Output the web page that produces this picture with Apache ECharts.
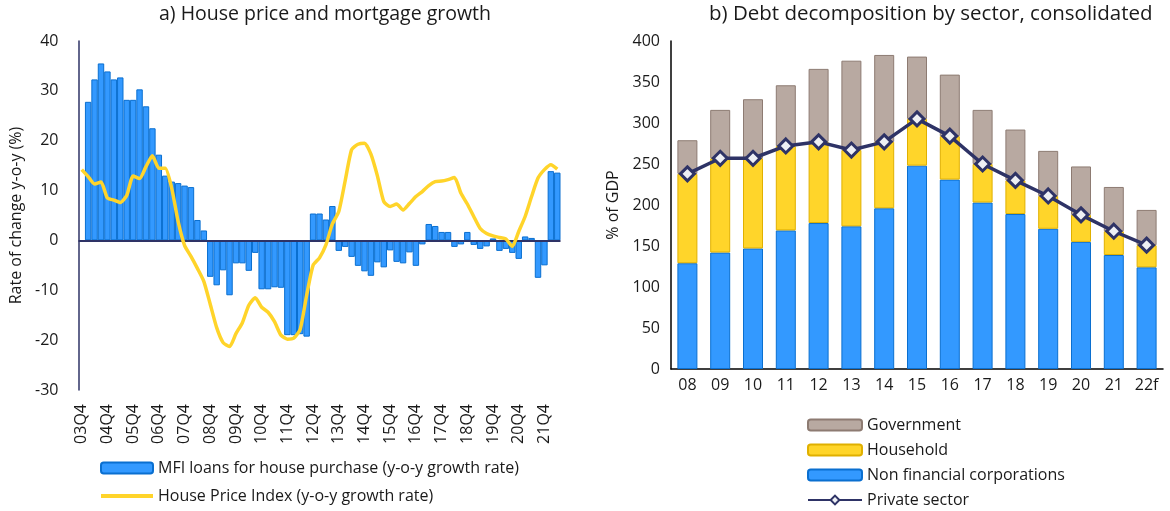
<!DOCTYPE html>
<html><head><meta charset="utf-8">
<script src="https://cdn.jsdelivr.net/npm/echarts/dist/echarts.min.js"></script>
<style>html,body{margin:0;padding:0;background:#fff}#c{width:1170px;height:511px}</style>
</head><body><div id="c"></div>
<script>
// ---- Panel a) data ----
const quarters = ['03Q4','04Q1','04Q2','04Q3','04Q4','05Q1','05Q2','05Q3','05Q4','06Q1','06Q2','06Q3','06Q4','07Q1','07Q2','07Q3','07Q4','08Q1','08Q2','08Q3','08Q4','09Q1','09Q2','09Q3','09Q4','10Q1','10Q2','10Q3','10Q4','11Q1','11Q2','11Q3','11Q4','12Q1','12Q2','12Q3','12Q4','13Q1','13Q2','13Q3','13Q4','14Q1','14Q2','14Q3','14Q4','15Q1','15Q2','15Q3','15Q4','16Q1','16Q2','16Q3','16Q4','17Q1','17Q2','17Q3','17Q4','18Q1','18Q2','18Q3','18Q4','19Q1','19Q2','19Q3','19Q4','20Q1','20Q2','20Q3','20Q4','21Q1','21Q2','21Q3','21Q4','22Q1','22Q2'];
const mfiLoans = [null,27.8,32.3,35.5,33.9,32.3,32.7,28.2,28.2,30.3,26.9,22.5,17.2,13.0,11.8,11.5,11.0,10.7,4.1,2.0,
  -7.3,-9.0,-6.0,-11.0,-4.6,-4.6,-6.1,-2.5,-9.8,-9.8,-9.4,-9.5,-19.0,-19.0,-18.8,-19.3,5.4,5.4,4.2,6.9,
  -2.1,-1.3,-3.3,-5.1,-6.2,-7.1,-4.4,-5.4,-2.0,-4.3,-4.6,-2.4,-5.1,-0.8,3.3,2.9,1.7,1.7,-1.3,-0.8,
  1.7,-0.9,-1.7,-1.2,0.4,-2.1,-1.7,-2.5,-3.7,0.8,0.5,-7.5,-5.0,13.9,13.6];
const housePrice = [14.2,12.8,11.3,11.7,8.5,8.1,7.6,9.0,12.9,12.4,14.8,17.0,14.5,14.5,10.5,3.8,-1.0,-3.2,-5.6,-8.2,
  -12.8,-17.5,-20.5,-21.3,-18.7,-16.5,-13.0,-11.5,-13.4,-14.4,-16.3,-19.0,-19.8,-19.6,-17.8,-11.0,-5.0,-3.5,-0.9,3.3,
  5.8,12.0,18.2,19.3,19.5,17.3,13.0,7.8,6.8,7.3,6.1,7.4,8.8,9.8,11.0,11.8,11.9,12.2,12.6,9.5,
  7.3,4.8,2.4,1.4,0.9,0.6,0.3,-1.2,1.8,4.8,8.8,12.5,14.2,15.2,14.3];

// ---- Panel b) data ----
const years = ['08','09','10','11','12','13','14','15','16','17','18','19','20','21','22f'];
const nonFinCorp = [129,142,147,169,178,174,196,248,231,203,189,171,155,139,124];
const household  = [109,115,110,103,99,93,81,57,53,47,41,40,33,29,27];
const government = [41,59,72,74,89,109,106,76,75,66,62,55,59,54,43];
const privateSector = [238,257,257,272,277,267,277,305,284,250,230,211,188,168,151];

const FONT = 'Open Sans';
const TXT = '#1a1a1a';
const NAVY = '#2e3366';
const LINE_ICON = 'path://M0,0M52,11M0,3.6L52,3.6L52,7.4L0,7.4Z';

const chart = echarts.init(document.getElementById('c'), null, {renderer:'canvas'});
chart.setOption({
  animation:false,
  backgroundColor:'#fff',
  textStyle:{fontFamily:FONT,color:TXT},
  title:[
    {text:'a) House price and mortgage growth',left:159,top:4,padding:0,textStyle:{fontFamily:FONT,fontSize:19.5,fontWeight:'normal',color:TXT}},
    {text:'b) Debt decomposition by sector, consolidated',left:709,top:4,padding:0,textStyle:{fontFamily:FONT,fontSize:20.5,fontWeight:'normal',color:TXT}}
  ],
  legend:[
    {left:100,top:459,height:80,padding:0,orient:'vertical',itemWidth:52,itemHeight:11,itemGap:10,
     textStyle:{fontFamily:FONT,fontSize:16,color:TXT,lineHeight:18},
     data:['MFI loans for house purchase (y-o-y growth rate)',
           {name:'House Price Index (y-o-y growth rate)',icon:LINE_ICON}]},
    {left:807,top:416,height:120,padding:0,orient:'vertical',itemWidth:54,itemHeight:11,itemGap:7,
     textStyle:{fontFamily:FONT,fontSize:16,color:TXT,lineHeight:18},
     data:['Government','Household','Non financial corporations','Private sector']}
  ],
  grid:[
    {left:78.5,top:41,width:482,height:349},
    {left:671,top:41,width:492,height:328}
  ],
  xAxis:[
    {type:'category',gridIndex:0,data:quarters,boundaryGap:true,
     axisLine:{show:false},axisTick:{show:false},
     axisLabel:{interval:3,rotate:90,margin:14,fontFamily:FONT,fontSize:16,color:TXT}},
    {type:'category',gridIndex:1,data:years,
     axisLine:{lineStyle:{color:'#000',width:1.5}},axisTick:{show:false},
     axisLabel:{margin:8,fontFamily:FONT,fontSize:16,color:TXT}}
  ],
  yAxis:[
    {type:'value',gridIndex:0,min:-30,max:40,interval:10,
     name:'Rate of change y-o-y (%)',nameLocation:'middle',nameGap:54,nameRotate:90,
     nameTextStyle:{fontFamily:FONT,fontSize:16,color:TXT},
     axisLine:{show:true,onZero:false,lineStyle:{color:NAVY,width:1.5}},axisTick:{show:false},splitLine:{show:false},
     axisLabel:{margin:20,fontFamily:FONT,fontSize:16,color:TXT}},
    {type:'value',gridIndex:1,min:0,max:400,interval:50,
     name:'% of GDP',nameLocation:'middle',nameGap:50,nameRotate:90,
     nameTextStyle:{fontFamily:FONT,fontSize:16,color:TXT},
     axisLine:{show:true,lineStyle:{color:'#000',width:1.5}},axisTick:{show:false},splitLine:{show:false},
     axisLabel:{margin:11,fontFamily:FONT,fontSize:16,color:TXT}}
  ],
  series:[
    {name:'MFI loans for house purchase (y-o-y growth rate)',type:'bar',xAxisIndex:0,yAxisIndex:0,
     data:mfiLoans,barCategoryGap:'0%',
     itemStyle:{color:'#3399ff',borderColor:'#0a6fd0',borderWidth:1},
     markLine:{silent:true,symbol:'none',label:{show:false},
       lineStyle:{color:NAVY,width:2,type:'solid'},data:[{yAxis:0}]}},
    {name:'House Price Index (y-o-y growth rate)',type:'line',xAxisIndex:0,yAxisIndex:0,
     data:housePrice,symbol:'none',smooth:0.2,z:5,
     itemStyle:{color:'#ffd42a'},lineStyle:{color:'#ffd42a',width:3.5}},
    {name:'Non financial corporations',type:'bar',stack:'debt',xAxisIndex:1,yAxisIndex:1,
     data:nonFinCorp,barWidth:20,
     itemStyle:{color:'#3399ff',borderColor:'#0a6fd0',borderWidth:1}},
    {name:'Household',type:'bar',stack:'debt',xAxisIndex:1,yAxisIndex:1,
     data:household,barWidth:20,
     itemStyle:{color:'#ffd52a',borderColor:'#e0b000',borderWidth:1}},
    {name:'Government',type:'bar',stack:'debt',xAxisIndex:1,yAxisIndex:1,
     data:government,barWidth:20,
     itemStyle:{color:'#b8a9a1',borderColor:'#8d7b72',borderWidth:1}},
    {name:'Private sector',type:'line',xAxisIndex:1,yAxisIndex:1,
     data:privateSector,symbol:'diamond',symbolSize:14,z:5,
     itemStyle:{color:'#eef0f4',borderColor:NAVY,borderWidth:3},
     lineStyle:{color:NAVY,width:3.5}}
  ]
});
</script></body></html>
